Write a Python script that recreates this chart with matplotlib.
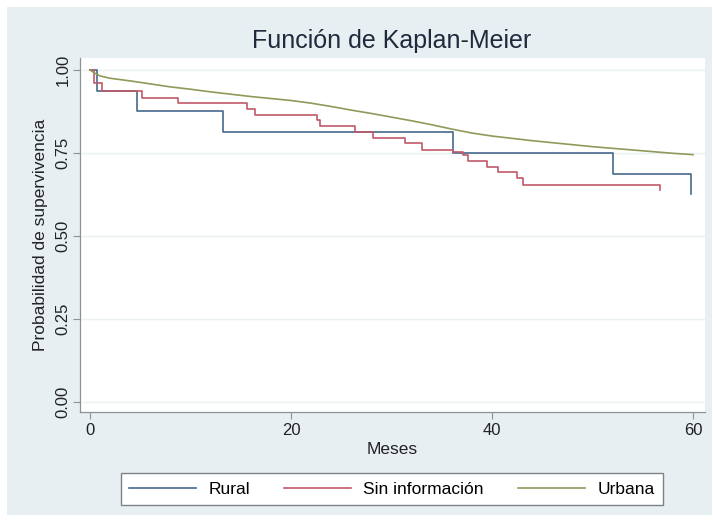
import matplotlib
matplotlib.use("Agg")
import matplotlib.pyplot as plt
from matplotlib.patches import Rectangle

plt.rcParams['font.family'] = ['Liberation Sans', 'DejaVu Sans']

# Kaplan-Meier step estimates (months, survival)
rural_t = [0, 0.7, 4.7, 13.2, 36.1, 52.0, 59.8]
rural_s = [1.0, 0.9375, 0.875, 0.8125, 0.75, 0.6875, 0.625]

sininfo_t = [0, 0.4, 1.2, 5.2, 8.8, 15.6, 16.4, 22.6, 22.9, 26.4, 28.2, 31.3,
             33.0, 36.1, 37.1, 37.6, 39.5, 40.6, 42.5, 43.1, 56.7]
sininfo_s = [1.0, 0.96, 0.937, 0.915, 0.90, 0.883, 0.865, 0.85, 0.83, 0.813,
             0.795, 0.78, 0.759, 0.753, 0.744, 0.726, 0.708, 0.693, 0.675,
             0.654, 0.64]

# many small events -> curve reads as a smooth decline
urbana_t = [0, 0.5, 1, 2, 4, 6, 8, 10, 12, 14, 16, 18, 20, 22, 24, 26, 28,
            30, 32, 34, 36, 38, 40, 42, 44, 46, 48, 50, 52, 54, 56, 58, 60]
urbana_s = [1.0, 0.99, 0.982, 0.975, 0.967, 0.958, 0.949, 0.942, 0.934,
            0.927, 0.920, 0.914, 0.908, 0.900, 0.890, 0.879, 0.869, 0.858,
            0.847, 0.835, 0.822, 0.810, 0.801, 0.794, 0.787, 0.781, 0.775,
            0.769, 0.764, 0.759, 0.754, 0.749, 0.745]

labels = ["Rural", "Sin información", "Urbana"]
colors = ["#46688a", "#c05a68", "#8e9a5a"]
xticks = [0, 20, 40, 60]
yticks = [0.0, 0.25, 0.50, 0.75, 1.0]
ytick_labels = ["0.00", "0.25", "0.50", "0.75", "1.00"]

W, H = 713, 522
bg = "#e8eff2"
axcol = "#8c9296"
txt = "#222222"

fig = plt.figure(figsize=(W / 100, H / 100), dpi=100)
fig.patch.set_facecolor("white")
fig.add_artist(Rectangle((7 / W, 7 / H), 705 / W, 508 / H, transform=fig.transFigure,
                         facecolor=bg, edgecolor="none", zorder=-10))

ax = fig.add_axes([80 / W, 110 / H, 625 / W, 354 / H])
ax.set_facecolor("white")

ax.plot(rural_t, rural_s, drawstyle="steps-post", color=colors[0], lw=1.2, label=labels[0])
ax.plot(sininfo_t, sininfo_s, drawstyle="steps-post", color=colors[1], lw=1.2, label=labels[1])
ax.plot(urbana_t, urbana_s, color=colors[2], lw=1.2, label=labels[2])

ax.set_xlim(-0.995, 61.2)
ax.set_ylim(-0.030, 1.036)
ax.set_xticks(xticks)
ax.set_yticks(yticks)
ax.set_yticklabels(ytick_labels, rotation=90, va="center")
ax.tick_params(axis="both", colors=axcol, labelcolor=txt, labelsize=12,
               length=5, width=0.8)
ax.tick_params(axis="x", pad=3)
ax.tick_params(axis="y", pad=2)
ax.yaxis.grid(True, color="#eaf0f3", lw=1)
ax.set_axisbelow(True)
for side in ["top", "right"]:
    ax.spines[side].set_visible(False)
for side in ["left", "bottom"]:
    ax.spines[side].set_color(axcol)
    ax.spines[side].set_linewidth(0.9)

ax.set_xlabel("Meses", fontsize=12.5, color=txt, labelpad=3)
ax.set_ylabel("Probabilidad de supervivencia", fontsize=12.5, color=txt, labelpad=5)

fig.text(392 / W, 1 - 48 / H, "Función de Kaplan-Meier", ha="center", va="baseline",
         fontsize=18, color="#1f2a3c")

leg = fig.legend(loc="center", bbox_to_anchor=(392 / W, 1 - 489 / H), ncol=3,
                 fontsize=12.5, frameon=True, fancybox=False, handlelength=3.86,
                 columnspacing=1.98, handletextpad=0.69, borderpad=0.5,
                 borderaxespad=0)
leg.get_frame().set_edgecolor("#7d8285")
leg.get_frame().set_linewidth(1.0)
leg.get_frame().set_facecolor("white")
leg.get_frame().set_alpha(1)

fig.savefig("out.png", dpi=100)
